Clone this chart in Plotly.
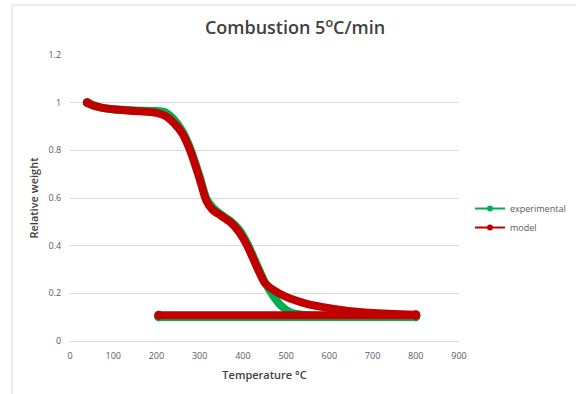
import plotly.graph_objects as go

# Heating segment (temperature in °C, relative weight)
exp_temp = [40, 70, 100, 150, 200, 220, 240, 260, 280, 300, 315, 330, 350, 370, 390, 410, 430, 450, 470, 490, 510, 550, 600, 700, 800]
exp_weight = [1.0, 0.98, 0.972, 0.967, 0.965, 0.96, 0.93, 0.88, 0.80, 0.69, 0.60, 0.56, 0.53, 0.505, 0.47, 0.41, 0.33, 0.25, 0.19, 0.145, 0.12, 0.108, 0.106, 0.105, 0.104]

model_temp = [40, 50, 70, 100, 150, 200, 220, 240, 260, 280, 300, 315, 330, 350, 370, 390, 410, 430, 450, 470, 500, 550, 600, 650, 700, 750, 800]
model_weight = [1.0, 0.99, 0.98, 0.972, 0.965, 0.957, 0.945, 0.915, 0.87, 0.79, 0.68, 0.59, 0.55, 0.525, 0.50, 0.46, 0.40, 0.32, 0.245, 0.215, 0.185, 0.155, 0.138, 0.125, 0.118, 0.113, 0.11]

# Return segment (flat line back towards 200 °C)
exp_return_temp = [800, 205]
exp_return_weight = [0.101, 0.101]
model_return_temp = [800, 205]
model_return_weight = [0.108, 0.108]

GREEN = "#00b050"
RED = "#c00000"
GREY = "#595959"

fig = go.Figure()

def add_series(x, y, color, width, shape="spline", ends=True):
    fig.add_trace(go.Scatter(x=x, y=y, mode="lines", showlegend=False,
                             line=dict(color=color, width=width, shape=shape, smoothing=0.6),
                             hoverinfo="skip"))
    if ends:
        fig.add_trace(go.Scatter(x=[x[0], x[-1]], y=[y[0], y[-1]], mode="markers", showlegend=False,
                                 marker=dict(color=color, size=width + 1), hoverinfo="skip"))

add_series(exp_temp, exp_weight, GREEN, 8)
add_series(exp_return_temp, exp_return_weight, GREEN, 8, "linear")
add_series(model_temp, model_weight, RED, 8)
add_series(model_return_temp, model_return_weight, RED, 8, "linear")

# legend entries
fig.add_trace(go.Scatter(x=[None], y=[None], mode="lines+markers", name="experimental",
                         line=dict(color=GREEN, width=2), marker=dict(color=GREEN, size=6)))
fig.add_trace(go.Scatter(x=[None], y=[None], mode="lines+markers", name="model",
                         line=dict(color=RED, width=2), marker=dict(color=RED, size=6)))

fig.update_layout(
    width=576, height=394,
    paper_bgcolor="white", plot_bgcolor="white",
    margin=dict(l=70, r=117, t=55, b=53, autoexpand=False),
    font=dict(family="Open Sans, Liberation Sans, sans-serif", color=GREY, size=9),
    title=dict(text="Combustion 5<sup>o</sup>C/min", x=295/576, xref="container", xanchor="center",
               y=1 - 28/394, yref="container", yanchor="middle",
               font=dict(size=18, color="#404040", weight=600)),
    xaxis=dict(range=[0, 900], tickvals=[0, 100, 200, 300, 400, 500, 600, 700, 800, 900],
               showgrid=False, zeroline=False, showline=False, automargin=False,
               ticks="outside", ticklen=6, tickcolor="rgba(0,0,0,0)", tickfont=dict(size=9, color=GREY),
               title=dict(text="Temperature °C", font=dict(size=11, color="#404040", weight=600), standoff=10)),
    yaxis=dict(range=[0, 1.2], tickvals=[0, 0.2, 0.4, 0.6, 0.8, 1, 1.2],
               ticktext=["0", "0.2", "0.4", "0.6", "0.8", "1", "1.2"],
               showgrid=True, gridcolor="#d9d9d9", gridwidth=1, zeroline=True, automargin=False,
               zerolinecolor="#d9d9d9", zerolinewidth=1, showline=False,
               ticks="outside", ticklen=6, tickcolor="rgba(0,0,0,0)",
               tickfont=dict(size=9, color=GREY),
               title=dict(text="Relative weight", font=dict(size=11, color="#404040", weight=600), standoff=7)),
    legend=dict(x=(470 - 70) / 389, y=0.43, xanchor="left", yanchor="middle", bgcolor="rgba(0,0,0,0)",
                font=dict(size=9, color=GREY), itemwidth=30, tracegroupgap=4),
    shapes=[dict(type="rect", xref="paper", yref="paper",
                 x0=-58/389, x1=1 + 130/389, y0=-80/286, y1=1 + 50/286,
                 line=dict(color="#d9d9d9", width=1), fillcolor="rgba(0,0,0,0)", layer="below")],
)

fig.write_html("out.html", config={"displayModeBar": False},
               post_script="document.body.style.margin='0';")
